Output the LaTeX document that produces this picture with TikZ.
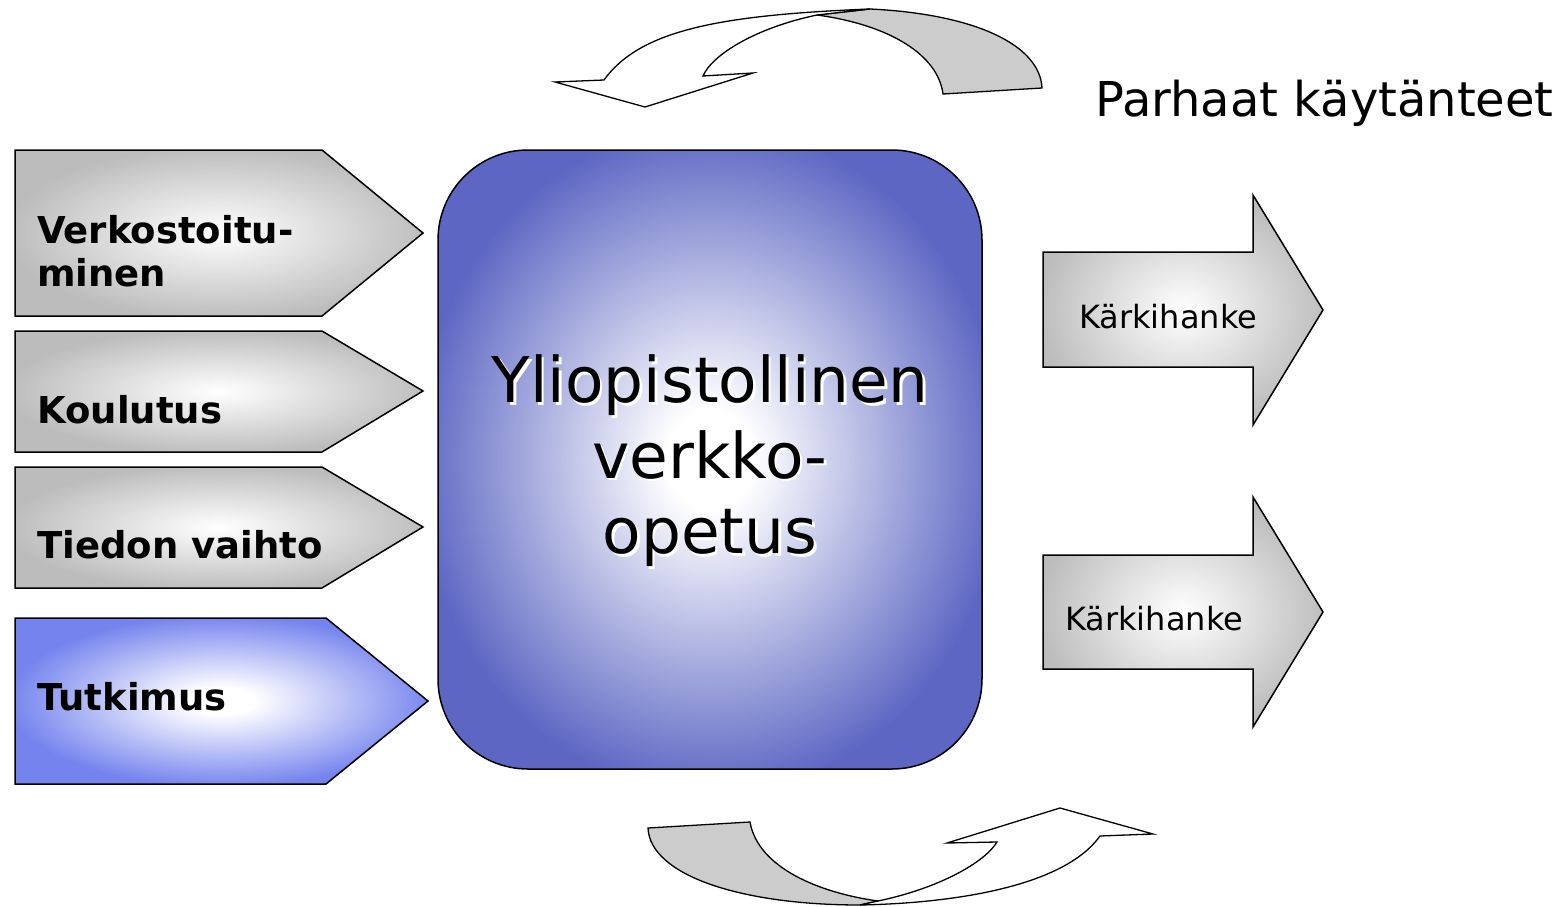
\documentclass[tikz,border=0pt]{standalone}
\usepackage{fontspec}
\setmainfont{DejaVu Sans}
\usetikzlibrary{positioning}
\definecolor{boxblue}{RGB}{93,103,195}
\definecolor{tipblue}{RGB}{116,131,238}
\definecolor{arrgray}{RGB}{188,188,188}
\definecolor{backgray}{RGB}{204,204,204}
\pgfdeclareradialshading{boxshade}{\pgfpoint{0bp}{0bp}}{color(0bp)=(white); color(4bp)=(white); color(27bp)=(boxblue); color(50bp)=(boxblue)}
\pgfdeclareradialshading{greyshade}{\pgfpoint{0bp}{0bp}}{color(0bp)=(white); color(4bp)=(white!96!black); color(26bp)=(arrgray); color(50bp)=(arrgray)}
\pgfdeclareradialshading{tipshade}{\pgfpoint{0bp}{0bp}}{color(0bp)=(white); color(4bp)=(white); color(26bp)=(tipblue); color(50bp)=(tipblue)}
\begin{document}
\begin{tikzpicture}[x=1pt,y=-1pt,node distance=75.5pt,on grid,
  greybox/.style={draw=black,line width=1.5pt,shading=greyshade},
  bluebox/.style={draw=black,line width=1.5pt,shading=tipshade},
  centrebox/.style={draw=black,line width=1.5pt,shading=boxshade,rounded corners=90pt,
    minimum width=544pt,minimum height=619pt,inner sep=0pt},
  ribbon/.style={draw=black,line width=1.3pt},
  boxtext/.style={font=\fontsize{37}{43}\selectfont\bfseries,anchor=base west,inner sep=0pt},
  arrowtext/.style={font=\fontsize{32}{32}\selectfont,anchor=base west,inner sep=0pt},
  bigline/.style={font=\fontsize{63}{63}\selectfont,text height=48pt,text depth=15pt,inner sep=0pt}]
  \useasboundingbox (0,0) rectangle (1567,907);

  % left boxes
  \draw[greybox] (15,150) -- (322,150) -- (423,233) -- (322,316) -- (15,316) -- cycle;
  \draw[greybox] (15,331) -- (322,331) -- (423,391) -- (322,452) -- (15,452) -- cycle;
  \draw[greybox] (15,467) -- (322,467) -- (423,527) -- (322,588) -- (15,588) -- cycle;
  \draw[bluebox] (15,618) -- (326,618) -- (428,701) -- (326,784) -- (15,784) -- cycle;
  \node[boxtext] (verk)  at (37,243) {Verkostoitu-};
  \node[boxtext] (minen) at (37,286) {minen};
  \node[boxtext] (koul)  at (37,423) {Koulutus};
  \node[boxtext] (tied)  at (37,558) {Tiedon vaihto};
  \node[boxtext] (tutk)  at (37,710) {Tutkimus};

  % centre box
  \node[centrebox] (hub) at (710,459.5) {};
  \node[bigline,white] (l1s) at (712.5,388.5) {Yliopistollinen};
  \node[bigline,white] (l2s) [below=of l1s] {verkko-};
  \node[bigline,white] (l3s) [below=of l2s] {opetus};
  \node[bigline] (l1) at (710,386) {Yliopistollinen};
  \node[bigline] (l2) [below=of l1] {verkko-};
  \node[bigline] (l3) [below=of l2] {opetus};

  % right arrows
  \draw[greybox] (1043,252) -- (1253,252) -- (1253,195) -- (1323,310) -- (1253,425) -- (1253,367) -- (1043,367) -- cycle;
  \draw[greybox] (1043,555) -- (1253,555) -- (1253,497) -- (1323,612) -- (1253,727) -- (1253,669) -- (1043,669) -- cycle;
  \node[arrowtext] (kar1) at (1079,328) {Kärkihanke};
  \node[arrowtext] (kar2) at (1065,630) {Kärkihanke};

  % curved arrows
  \draw[ribbon,fill=backgray] (817,15) .. controls (890,25) and (938,55) .. (943,94) -- (1042,88)
    .. controls (1040,45) and (975,14) .. (870,9) -- cycle;
  \draw[ribbon,fill=white] (604,80) .. controls (640,30) and (720,15) .. (870,9) -- (817,15)
    .. controls (755,28) and (712,55) .. (703,76) -- (753,73) -- (645,107) -- (555,82) -- cycle;
  \draw[ribbon,fill=backgray] (648,828) -- (750,822) .. controls (758,868) and (820,893) .. (878,901)
    -- (860,905) .. controls (740,905) and (650,875) .. (648,828) -- cycle;
  \draw[ribbon,fill=white] (878,901) .. controls (940,888) and (985,862) .. (997,842) -- (947,843)
    -- (1060,808) -- (1153,834) -- (1100,836) .. controls (1065,885) and (960,903) .. (860,905) -- cycle;

  \node[font=\fontsize{48}{48}\selectfont,anchor=base west,inner sep=0pt] (parh) at (1095,117) {Parhaat käytänteet};
\end{tikzpicture}
\end{document}
